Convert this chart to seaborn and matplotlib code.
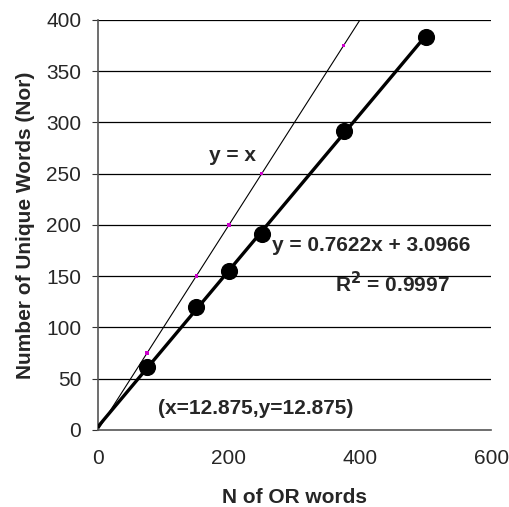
import matplotlib
matplotlib.use("Agg")
import matplotlib.pyplot as plt
import seaborn as sns
import numpy as np
import pandas as pd

sns.set_theme(style="white")
plt.rcParams['font.family'] = ['Liberation Sans', 'DejaVu Sans']

n_or = [75, 150, 200, 250, 375, 500]
n_unique = [61, 120, 155, 191, 292, 383]
ident_x = [75, 150, 200, 250, 375]
slope, intercept = 0.7622, 3.0966

df = pd.DataFrame({"x": n_or, "y": n_unique})
dfi = pd.DataFrame({"x": ident_x, "y": ident_x})

fig = plt.figure(figsize=(5.10, 5.07), dpi=100)
ax = fig.add_axes([0.192, 0.152, 0.771, 0.809])

for yv in range(50, 401, 50):
    ax.axhline(yv, color="black", lw=0.9, zorder=1)

fx = np.array([0, 500])
ax.plot(fx, slope * fx + intercept, color="black", lw=2.4, zorder=3)
ax.plot([0, 400], [0, 400], color="black", lw=0.8, zorder=2)
sns.scatterplot(data=dfi, x="x", y="y", ax=ax, color="#cc00cc", s=6, marker="s",
                edgecolor="none", zorder=4)
sns.scatterplot(data=df, x="x", y="y", ax=ax, color="black", s=130,
                edgecolor="black", zorder=5)

ax.set_xlim(0, 600)
ax.set_ylim(0, 400)
ax.set_xticks([0, 200, 400, 600])
ax.set_yticks(range(0, 401, 50))
ax.tick_params(axis="x", direction="in", length=5, width=0.8, color="#333333",
               labelsize=15, pad=14)
ax.tick_params(axis="y", direction="out", length=4, width=0.8, color="#333333",
               labelsize=15, pad=8, left=True)
for s in ["top", "right"]:
    ax.spines[s].set_visible(False)
for s in ["left", "bottom"]:
    ax.spines[s].set_color("#555555")
    ax.spines[s].set_linewidth(1.2)

ax.set_xlabel("N of OR words", fontsize=15, fontweight="bold", labelpad=14)
ax.set_ylabel("Number of Unique Words (Nor)", fontsize=15, fontweight="bold", labelpad=8)

ax.text(205, 268, "y = x", fontsize=15, fontweight="bold", ha="center", va="center")
ax.text(417, 180, "y = 0.7622x + 3.0966", fontsize=15, fontweight="bold", ha="center", va="center")
ax.text(449, 143, "R$^{\\mathbf{2}}$ = 0.9997", fontsize=15, fontweight="bold", ha="center", va="center")
ax.text(240, 21, "(x=12.875,y=12.875)", fontsize=15, fontweight="bold", ha="center", va="center")

fig.savefig("out.png", dpi=100)
